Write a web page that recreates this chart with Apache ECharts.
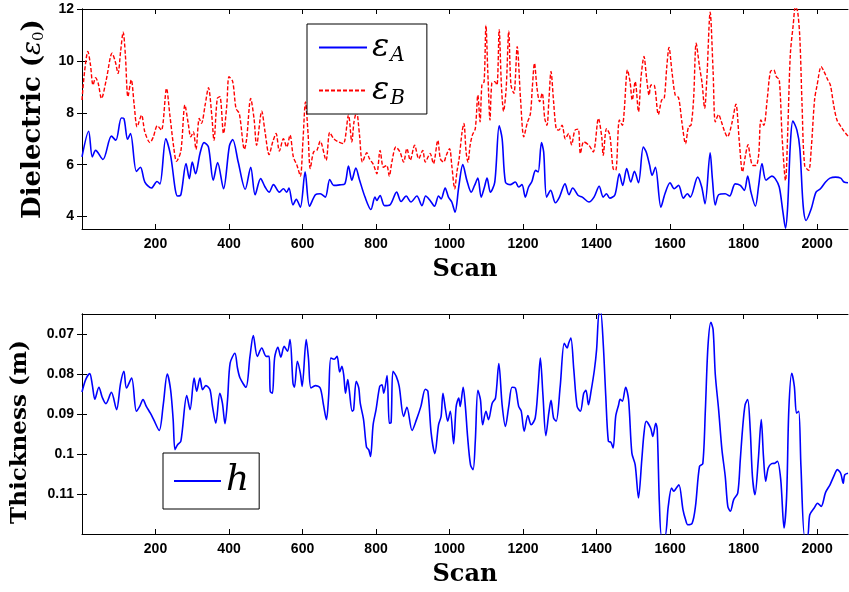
<!DOCTYPE html>
<html>
<head>
<meta charset="utf-8">
<script src="https://cdn.jsdelivr.net/npm/echarts@6/dist/echarts.min.js"></script>
<style>
  html, body { margin: 0; padding: 0; background: #fff; }
  #chart { width: 849px; height: 592px; }
</style>
</head>
<body>
<div id="chart"></div>
<script>
// scan positions and values (turning points of each trace)
const scanA = [0,18,28,37,57,80,92,107,114,124,132,148,159,171,189,204,212,228,241,260,269,283,292,300,309,321,332,344,357,369,385,401,410,425,444,459,471,486,498,509,521,537,548,557,563,574,583,594,607,619,635,648,662,674,685,701,715,725,734,745,754,770,786,797,802,811,823,838,856,868,882,895,911,925,935,947,959,970,977,988,997,1006,1015,1025,1036,1047,1059,1068,1077,1086,1095,1102,1111,1123,1135,1143,1152,1165,1179,1188,1197,1206,1215,1224,1234,1241,1250,1256,1264,1275,1288,1299,1314,1325,1335,1350,1361,1379,1393,1407,1418,1427,1436,1450,1462,1471,1482,1493,1503,1514,1527,1535,1544,1551,1560,1575,1586,1600,1611,1623,1636,1647,1655,1675,1686,1695,1709,1715,1723,1732,1750,1762,1777,1791,1802,1811,1820,1832,1841,1850,1861,1877,1886,1897,1907,1914,1920,1927,1934,1945,1953,1962,1970,1984,1997,2009,2023,2035,2050,2064,2073,2084];
const epsA = [6.3,7.29,6.3,6.55,6.2,7.1,6.94,7.8,7.78,6.98,7.2,5.74,5.9,5.33,5.1,5.35,5.26,7.0,6.36,4.79,4.84,6.04,5.46,6.1,5.65,6.43,6.85,6.68,5.4,6.08,5.07,6.72,6.97,6.1,5.05,5.9,4.84,5.46,5.14,4.94,5.23,4.94,5.07,4.94,5.1,4.45,4.66,4.36,5.72,4.4,4.84,4.88,4.75,5.43,5.2,5.22,5.26,5.95,5.4,5.87,5.46,4.75,4.27,4.75,4.62,4.81,4.42,4.45,4.94,4.58,4.79,4.56,4.79,4.42,4.79,4.62,4.4,4.79,4.68,5.1,4.75,4.56,4.17,5.14,6.0,5.4,4.94,5.2,5.48,4.75,5.14,5.48,4.94,5.33,7.5,7.0,5.33,5.23,5.33,5.14,5.23,4.75,5.14,5.35,5.78,5.72,6.85,6.49,4.75,5.01,4.53,4.75,5.26,4.84,5.1,4.81,4.75,4.56,4.75,5.17,4.75,4.88,4.71,4.84,5.65,5.2,5.85,5.33,5.74,5.3,6.68,6.49,6.0,5.59,5.9,4.36,4.88,5.3,5.07,5.2,4.71,4.88,4.75,5.52,5.14,4.49,6.46,5.46,4.45,4.84,4.88,4.79,5.26,5.2,5.01,5.56,4.94,4.4,5.2,6.04,5.4,5.56,5.46,5.14,4.17,3.55,4.42,6.75,7.68,7.33,6.62,4.42,3.85,4.3,4.94,5.07,5.33,5.48,5.52,5.48,5.33,5.3];

const scanB = [0,7,16,23,30,37,44,53,66,82,91,98,105,112,118,125,134,142,150,162,171,185,194,205,216,230,239,250,257,269,280,289,296,303,310,319,325,335,344,353,359,368,375,385,394,400,410,419,428,442,448,459,468,475,489,498,509,519,528,537,548,557,566,575,585,594,601,608,615,621,630,639,648,664,674,685,697,711,725,734,740,747,755,763,775,782,793,802,811,820,829,836,843,854,865,875,884,893,905,916,927,934,947,956,968,975,984,991,1000,1006,1014,1020,1026,1034,1039,1045,1050,1056,1062,1070,1077,1083,1088,1094,1099,1104,1110,1115,1123,1129,1135,1141,1147,1154,1161,1167,1175,1184,1193,1202,1211,1220,1225,1231,1238,1245,1252,1259,1265,1270,1276,1283,1290,1297,1306,1315,1324,1332,1341,1350,1356,1365,1379,1391,1405,1414,1418,1427,1436,1445,1452,1462,1470,1475,1484,1491,1497,1505,1514,1521,1529,1536,1543,1548,1556,1568,1577,1584,1591,1597,1605,1614,1623,1632,1642,1650,1657,1664,1671,1680,1687,1694,1700,1709,1717,1723,1732,1739,1748,1756,1768,1779,1788,1797,1805,1812,1818,1825,1834,1841,1847,1855,1864,1873,1882,1889,1897,1905,1914,1920,1927,1935,1941,1947,1953,1959,1966,1977,1984,1993,2000,2011,2018,2029,2036,2045,2054,2065,2073,2084];
const epsB = [8.49,9.59,10.36,9.85,9.07,9.35,9.14,8.55,9.27,10.3,9.95,9.52,10.36,11.11,10.23,8.62,9.27,8.3,7.46,7.91,7.26,6.85,7.07,7.5,7.33,8.94,7.91,6.62,6.13,6.52,8.3,7.59,7.07,7.26,6.59,7.78,7.59,8.3,8.97,7.91,6.94,8.55,8.62,7.2,8.3,9.39,9.2,8.17,7.97,6.59,7.0,8.55,7.78,6.75,8.06,7.26,6.39,6.88,7.2,6.52,7.0,6.68,7.14,6.3,5.97,5.56,6.88,8.42,7.2,5.85,6.49,6.55,6.9,6.17,7.24,7.0,6.88,6.81,7.91,6.88,7.65,8.04,7.14,6.1,6.46,6.23,6.0,5.65,6.55,5.9,5.97,5.56,6.1,6.68,6.49,6.1,6.62,6.17,6.75,6.23,6.55,6.1,6.43,6.04,6.94,6.23,6.1,6.36,6.62,5.97,5.07,5.72,6.23,7.26,7.59,6.49,6.1,6.75,7.14,7.39,8.68,7.65,9.07,9.2,11.37,9.59,7.72,9.14,9.2,9.07,11.2,9.07,8.06,8.94,11.14,9.07,8.75,10.55,8.55,7.07,7.59,7.97,8.94,9.91,8.94,8.43,8.75,7.78,7.52,8.43,9.59,8.43,7.39,7.33,7.52,7.0,7.2,6.77,7.33,7.37,6.43,6.88,6.75,6.49,7.78,7.07,6.36,7.39,7.14,5.85,5.78,7.72,7.52,8.04,9.65,9.2,8.49,9.2,8.04,9.39,10.17,9.33,8.68,9.07,9.07,7.93,8.49,8.55,9.78,10.52,9.59,8.68,8.58,7.65,6.81,7.46,7.52,8.55,10.68,9.78,9.14,8.17,9.33,11.88,9.59,7.65,7.93,7.68,7.29,7.07,7.59,8.33,6.94,5.72,6.36,6.77,6.3,5.97,5.97,6.39,7.72,7.52,8.49,9.59,9.65,9.39,9.27,7.0,5.39,7.26,10.23,11.39,12.1,11.9,10.88,8.3,5.97,5.78,6.62,8.49,9.07,9.78,9.61,9.27,9.07,8.3,7.72,7.46,7.29,7.1];

const scanH = [0,10,21,28,35,46,55,65,80,94,105,114,121,135,148,157,166,175,186,195,210,221,232,241,248,253,260,269,285,294,305,312,321,328,337,348,355,364,375,382,389,396,403,416,423,430,446,457,466,477,489,501,509,512,518,524,533,541,550,559,566,574,578,586,594,599,610,616,623,635,648,657,665,671,677,686,694,701,707,712,717,723,727,735,739,746,753,757,766,774,780,785,792,800,810,816,821,830,836,841,846,855,863,875,884,898,910,922,934,941,950,960,970,977,982,989,995,1002,1011,1018,1025,1029,1037,1043,1049,1057,1064,1070,1077,1084,1090,1099,1106,1116,1125,1134,1143,1152,1161,1170,1179,1188,1195,1203,1213,1222,1233,1241,1247,1254,1262,1270,1276,1283,1290,1301,1312,1320,1324,1330,1338,1347,1356,1365,1371,1378,1385,1394,1400,1407,1411,1418,1425,1432,1439,1445,1452,1460,1464,1470,1479,1487,1496,1505,1514,1523,1529,1535,1547,1553,1561,1565,1571,1577,1586,1595,1604,1610,1617,1624,1635,1642,1648,1660,1669,1680,1689,1696,1703,1711,1717,1723,1732,1741,1750,1757,1764,1773,1784,1791,1797,1804,1811,1818,1824,1831,1840,1848,1854,1860,1867,1876,1885,1892,1901,1910,1917,1923,1931,1938,1944,1950,1956,1966,1974,1980,1992,2001,2011,2023,2035,2046,2055,2064,2071,2075,2084];
const thickH = [0.0845,0.0814,0.0799,0.0827,0.0863,0.0833,0.0858,0.0874,0.0846,0.0889,0.0823,0.0793,0.0835,0.081,0.0893,0.0881,0.0864,0.0881,0.0898,0.0914,0.0941,0.0877,0.08,0.0839,0.0914,0.0989,0.0977,0.0968,0.0854,0.0889,0.081,0.0843,0.081,0.0839,0.0829,0.0839,0.0881,0.0923,0.0848,0.0873,0.0924,0.0864,0.0773,0.0748,0.0785,0.081,0.0833,0.0756,0.0704,0.0756,0.0735,0.0756,0.0756,0.0843,0.0848,0.076,0.0733,0.0758,0.0731,0.0743,0.0714,0.0823,0.0833,0.0768,0.0798,0.0831,0.0714,0.076,0.0835,0.0829,0.0835,0.0877,0.0914,0.0856,0.076,0.0763,0.0756,0.0795,0.0781,0.0802,0.0848,0.0814,0.0839,0.0893,0.0889,0.0818,0.0835,0.0873,0.0914,0.0983,0.0989,0.1006,0.0927,0.0889,0.0831,0.0827,0.0848,0.0804,0.0923,0.0921,0.0793,0.0806,0.0831,0.0906,0.0883,0.0941,0.0914,0.0881,0.0838,0.0843,0.0948,0.0999,0.0927,0.0906,0.0848,0.0889,0.0918,0.0893,0.0974,0.0881,0.086,0.0881,0.0833,0.0881,0.0956,0.1027,0.1039,0.0968,0.0841,0.0864,0.0927,0.0893,0.0914,0.0873,0.086,0.0774,0.0877,0.0931,0.0881,0.0833,0.0835,0.0881,0.0893,0.0943,0.0904,0.0927,0.091,0.0831,0.076,0.0852,0.0954,0.0898,0.0866,0.091,0.0918,0.0831,0.0723,0.0735,0.0723,0.071,0.0789,0.0881,0.0893,0.0848,0.0841,0.0877,0.0843,0.079,0.0739,0.0645,0.0645,0.0723,0.0856,0.0968,0.0971,0.0985,0.0906,0.0877,0.0863,0.0868,0.0833,0.0864,0.0998,0.1027,0.111,0.1014,0.0948,0.0918,0.0935,0.0956,0.0923,0.0939,0.1127,0.1205,0.1205,0.1131,0.1085,0.1093,0.1085,0.1077,0.1139,0.1164,0.1177,0.1173,0.1131,0.1031,0.1024,0.0889,0.0731,0.0671,0.0689,0.0802,0.0889,0.0989,0.1056,0.1131,0.1143,0.1114,0.1098,0.1014,0.0939,0.0877,0.0864,0.0939,0.1056,0.1102,0.1014,0.0914,0.1006,0.1068,0.1035,0.1024,0.1023,0.1018,0.1064,0.1185,0.1106,0.0889,0.0798,0.0831,0.0898,0.0893,0.1031,0.1205,0.1205,0.1152,0.1135,0.1123,0.1131,0.1096,0.1077,0.1054,0.1039,0.1048,0.1073,0.1052,0.1048];

const scanTicks = [200, 400, 600, 800, 1000, 1200, 1400, 1600, 1800, 2000];
const dielTicks = [4, 6, 8, 10, 12];
const thickTicks = [0.07, 0.08, 0.09, 0.1, 0.11];

const zip = (xs, ys) => xs.map((x, i) => [x, ys[i]]);

const tickFont = { fontFamily: 'Liberation Sans', fontWeight: 'bold', fontSize: 14, color: '#000' };
const titleFont = { fontFamily: 'DejaVu Serif', fontWeight: 'bold', fontSize: 23, color: '#000' };
const axisLine = { show: true, lineStyle: { color: '#000', width: 1 } };

function xAxes(grid) {
  return [
    {
      type: 'value', gridIndex: grid, position: 'bottom', min: 0, max: 2084,
      name: 'Scan', nameLocation: 'middle', nameGap: 29,
      nameTextStyle: { ...titleFont, fontSize: 24 },
      axisLine, splitLine: { show: false },
      axisTick: { inside: true, length: 5, customValues: scanTicks, lineStyle: { color: '#000' } },
      axisLabel: { ...tickFont, margin: 8, customValues: scanTicks, formatter: v => String(v) }
    },
    {
      type: 'value', gridIndex: grid, position: 'top', min: 0, max: 2084,
      axisLine, splitLine: { show: false },
      axisTick: { inside: true, length: 5, customValues: scanTicks, lineStyle: { color: '#000' } },
      axisLabel: { show: false }
    }
  ];
}

function yAxes(grid, min, max, ticks, inverse, name, nameGap, nameStyle) {
  return [
    {
      type: 'value', gridIndex: grid, position: 'left', min, max, inverse,
      name, nameLocation: 'middle', nameGap,
      nameTextStyle: { ...titleFont, ...nameStyle },
      axisLine, splitLine: { show: false },
      axisTick: { inside: true, length: 5, customValues: ticks, lineStyle: { color: '#000' } },
      axisLabel: { ...tickFont, margin: 8, customValues: ticks, formatter: v => String(v) }
    },
    {
      type: 'value', gridIndex: grid, position: 'right', min, max, inverse,
      axisLine, splitLine: { show: false },
      axisTick: { inside: true, length: 5, customValues: ticks, lineStyle: { color: '#000' } },
      axisLabel: { show: false }
    }
  ];
}

const chart = echarts.init(document.getElementById('chart'), null, { renderer: 'canvas' });

chart.setOption({
  animation: false,
  backgroundColor: '#fff',
  grid: [
    { left: 82, right: 1, top: 9, height: 220 },
    { left: 82, right: 1, top: 314, height: 220 }
  ],
  xAxis: [...xAxes(0), ...xAxes(1)],
  yAxis: [
    ...yAxes(0, 3.52, 12, dielTicks, false, 'Dielectric ({e|ε}{z|0})', 35, {
      fontSize: 26,
      rich: {
        e: { fontFamily: 'DejaVu Serif', fontStyle: 'italic', fontSize: 26, fontWeight: 'normal' },
        z: { fontFamily: 'DejaVu Serif', fontSize: 15, fontWeight: 'normal', padding: [12, 0, 0, 0] }
      }
    }),
    ...yAxes(1, 0.065, 0.12, thickTicks, true, 'Thickness (m)', 50, { padding: [0, 16, 0, 0] })
  ],
  legend: [
    {
      left: 307, top: 24, orient: 'vertical',
      data: ['A', 'B'],
      itemWidth: 48, itemHeight: 14, itemGap: 6,
      padding: [5, 22, 5, 11],
      itemStyle: { opacity: 0 },
      borderColor: '#000', borderWidth: 1, backgroundColor: '#fff',
      formatter: n => '{e|ε}{s|' + n + '}',
      textStyle: {
        rich: {
          e: { fontFamily: 'DejaVu Serif', fontStyle: 'italic', fontSize: 32, lineHeight: 32, color: '#000', verticalAlign: 'top' },
          s: { fontFamily: 'DejaVu Serif', fontStyle: 'italic', fontSize: 20, lineHeight: 20, color: '#000', padding: [17, 0, 0, 1] }
        }
      }
    },
    {
      left: 163, top: 453, orient: 'vertical',
      data: ['h'],
      itemWidth: 47, itemHeight: 14,
      padding: [10, 10, 10, 10],
      itemStyle: { opacity: 0 },
      borderColor: '#000', borderWidth: 1, backgroundColor: '#fff',
      formatter: '{h|h}',
      textStyle: {
        rich: {
          h: { fontFamily: 'DejaVu Serif', fontStyle: 'italic', fontSize: 36, lineHeight: 30, color: '#000' }
        }
      }
    }
  ],
  series: [
    {
      name: 'A', type: 'line', xAxisIndex: 0, yAxisIndex: 0,
      data: zip(scanA, epsA), symbol: 'none', smooth: 0.3,
      lineStyle: { color: '#0000ff', width: 1.6 }, itemStyle: { color: '#0000ff' }
    },
    {
      name: 'B', type: 'line', xAxisIndex: 0, yAxisIndex: 0,
      data: zip(scanB, epsB), symbol: 'none', smooth: 0.3,
      lineStyle: { color: '#ff0000', width: 1.4, type: [4, 2] }, itemStyle: { color: '#ff0000' }
    },
    {
      name: 'h', type: 'line', xAxisIndex: 2, yAxisIndex: 2,
      data: zip(scanH, thickH), symbol: 'none', smooth: 0.3,
      lineStyle: { color: '#0000ff', width: 1.6 }, itemStyle: { color: '#0000ff' }
    }
  ]
});
</script>
</body>
</html>
